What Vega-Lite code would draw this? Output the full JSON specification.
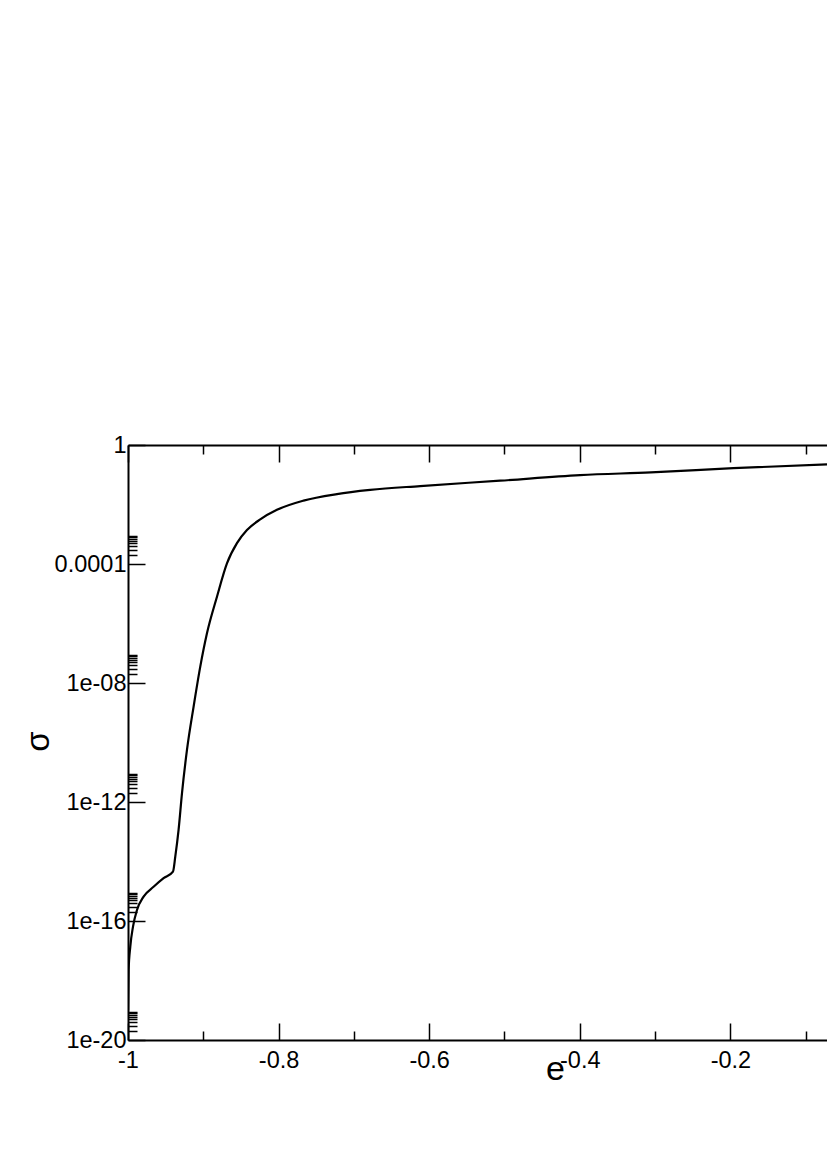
{
  "$schema": "https://vega.github.io/schema/vega-lite/v6.json",
  "autosize": {"type": "none"},
  "padding": {"left": 128, "top": 445, "right": 0, "bottom": 128},
  "width": 699,
  "height": 595,
  "background": "white",
  "config": {
    "view": {"stroke": null},
    "axis": {
      "grid": false,
      "domainColor": "black",
      "domainWidth": 2,
      "tickColor": "black",
      "tickWidth": 1.5,
      "labelColor": "black",
      "labelFont": "Liberation Sans",
      "labelFontSize": 23.5,
      "titleColor": "black",
      "titleFont": "Liberation Sans",
      "titleFontWeight": "normal"
    }
  },
  "data": {
    "values": [
      {"e": -0.9999, "sigma": 1e-19},
      {"e": -0.9992, "sigma": 2.24e-18},
      {"e": -0.99695, "sigma": 1.38e-17},
      {"e": -0.99336, "sigma": 6.46e-17},
      {"e": -0.98805, "sigma": 2.34e-16},
      {"e": -0.97929, "sigma": 6.61e-16},
      {"e": -0.96602, "sigma": 1.41e-15},
      {"e": -0.95274, "sigma": 2.75e-15},
      {"e": -0.94026, "sigma": 4.57e-15},
      {"e": -0.93721, "sigma": 1.45e-14},
      {"e": -0.93283, "sigma": 1.15e-13},
      {"e": -0.92832, "sigma": 1.95e-12},
      {"e": -0.92168, "sigma": 5.62e-11},
      {"e": -0.91292, "sigma": 1.58e-9},
      {"e": -0.90402, "sigma": 3.55e-8},
      {"e": -0.89513, "sigma": 4.68e-7},
      {"e": -0.88185, "sigma": 7.94e-6},
      {"e": -0.86858, "sigma": 1.05e-4},
      {"e": -0.8553, "sigma": 5.01e-4},
      {"e": -0.84203, "sigma": 1.38e-3},
      {"e": -0.82437, "sigma": 3.16e-3},
      {"e": -0.8022, "sigma": 6.61e-3},
      {"e": -0.76689, "sigma": 1.35e-2},
      {"e": -0.72255, "sigma": 2.24e-2},
      {"e": -0.67835, "sigma": 3.09e-2},
      {"e": -0.61198, "sigma": 4.17e-2},
      {"e": -0.5058, "sigma": 6.31e-2},
      {"e": -0.39958, "sigma": 9.77e-2},
      {"e": -0.3056, "sigma": 0.12},
      {"e": -0.19607, "sigma": 0.166},
      {"e": -0.0717, "sigma": 0.224}
    ]
  },
  "layer": [
    {
      "mark": {"type": "line", "color": "black", "strokeWidth": 2.2, "interpolate": "monotone", "clip": true},
      "encoding": {
        "x": {
          "field": "e", "type": "quantitative",
          "scale": {"domain": [-1, -0.0717], "nice": false, "zero": false},
          "axis": {
            "orient": "bottom",
            "title": "e",
            "titleFontSize": 34,
            "titleX": 427,
            "titleY": 39,
            "titleAlign": "center",
            "titleBaseline": "alphabetic",
            "values": [-1, -0.9, -0.8, -0.7, -0.6, -0.5, -0.4, -0.3, -0.2, -0.1],
            "tickSize": {"condition": {"test": "datum.value == -1 || datum.value == -0.8 || datum.value == -0.6 || datum.value == -0.4 || datum.value == -0.2", "value": -17}, "value": -9},
            "labelPadding": 25,
            "labelExpr": "datum.value == -1 ? '-1' : datum.value == -0.8 ? '-0.8' : datum.value == -0.6 ? '-0.6' : datum.value == -0.4 ? '-0.4' : datum.value == -0.2 ? '-0.2' : ''",
            "labelFlush": false,
            "labelOverlap": false
          }
        },
        "y": {
          "field": "sigma", "type": "quantitative",
          "scale": {"type": "log", "domain": [1e-20, 1], "nice": false},
          "axis": {
            "orient": "left",
            "title": "σ",
            "titleFontSize": 33,
            "titleAngle": -90,
            "titleX": -79.5,
            "titleY": 296,
            "titleAlign": "center",
            "titleBaseline": "alphabetic",
            "values": [1e-20, 2e-20, 3e-20, 4e-20, 5e-20, 6e-20, 7e-20, 8e-20, 9e-20,
                       1e-16, 2e-16, 3e-16, 4e-16, 5e-16, 6e-16, 7e-16, 8e-16, 9e-16,
                       1e-12, 2e-12, 3e-12, 4e-12, 5e-12, 6e-12, 7e-12, 8e-12, 9e-12,
                       1e-8, 2e-8, 3e-8, 4e-8, 5e-8, 6e-8, 7e-8, 8e-8, 9e-8,
                       1e-4, 2e-4, 3e-4, 4e-4, 5e-4, 6e-4, 7e-4, 8e-4, 9e-4,
                       1],
            "tickSize": {"condition": {"test": "datum.value == 1 || datum.value == 1e-4 || datum.value == 1e-8 || datum.value == 1e-12 || datum.value == 1e-16 || datum.value == 1e-20", "value": -17}, "value": -9},
            "labelPadding": 19,
            "labelExpr": "datum.value == 1 ? '1' : datum.value == 1e-4 ? '0.0001' : datum.value == 1e-8 ? '1e-08' : datum.value == 1e-12 ? '1e-12' : datum.value == 1e-16 ? '1e-16' : datum.value == 1e-20 ? '1e-20' : ''",
            "labelFlush": false,
            "labelOverlap": false
          }
        }
      }
    },
    {
      "mark": {"type": "line", "strokeOpacity": 0, "clip": true},
      "encoding": {
        "x": {
          "field": "e", "type": "quantitative",
          "axis": {
            "orient": "top",
            "title": null,
            "labels": false,
            "values": [-1, -0.9, -0.8, -0.7, -0.6, -0.5, -0.4, -0.3, -0.2, -0.1],
            "tickSize": {"condition": {"test": "datum.value == -1 || datum.value == -0.8 || datum.value == -0.6 || datum.value == -0.4 || datum.value == -0.2", "value": -17}, "value": -9}
          }
        },
        "y": {"field": "sigma", "type": "quantitative", "axis": null}
      }
    }
  ],
  "resolve": {"axis": {"x": "independent", "y": "independent"}}
}
